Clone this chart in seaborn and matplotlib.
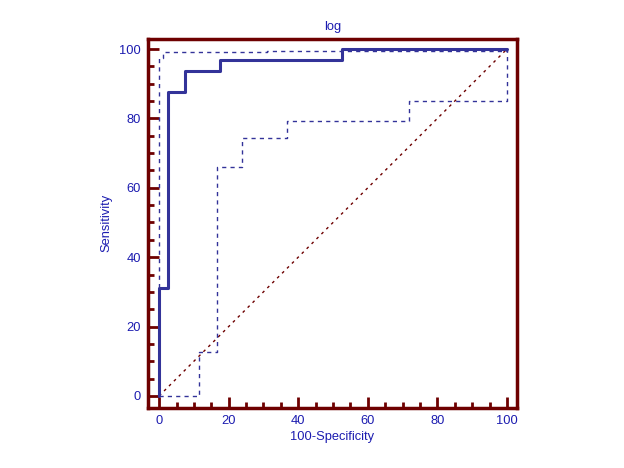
import numpy as np
import pandas as pd
import matplotlib
matplotlib.use("Agg")
import matplotlib.pyplot as plt
import seaborn as sns
from matplotlib.ticker import MultipleLocator

# ROC curve vertices (100-Specificity, Sensitivity)
roc_x = [0, 0, 2.5, 2.5, 7.5, 7.5, 17.5, 17.5, 52.5, 52.5, 100]
roc_y = [0, 31.25, 31.25, 87.5, 87.5, 93.75, 93.75, 96.875, 96.875, 100, 100]

# confidence bounds
upper_x = [0, 0, 1, 1, 31, 31, 100, 100]
upper_y = [0, 97.3, 97.3, 99.2, 99.2, 99.5, 99.5, 100]
lower_x = [0, 11.6, 11.6, 16.6, 16.6, 23.9, 23.9, 36.9, 36.9, 71.9, 71.9, 100, 100]
lower_y = [0, 0, 12.6, 12.6, 65.9, 65.9, 74.3, 74.3, 79.3, 79.3, 85, 85, 100]

diag = [0, 100]

maroon = "#6e0000"
blue = "#333399"
navy = "#1c1cb0"

sns.set_style("white")
plt.rcParams['font.family'] = ['Liberation Sans', 'DejaVu Sans']

fig = plt.figure(figsize=(6.24, 4.68), dpi=100)
ax = fig.add_axes([0.2372, 0.1289, 0.5913, 0.7884])

sns.lineplot(x=diag, y=diag, ax=ax, color=maroon, lw=1, sort=False,
             estimator=None, linestyle=(0, (2, 3)))
sns.lineplot(x=upper_x, y=upper_y, ax=ax, color=blue, lw=1, sort=False,
             estimator=None, linestyle=(0, (3, 3)))
sns.lineplot(x=lower_x, y=lower_y, ax=ax, color=blue, lw=1, sort=False,
             estimator=None, linestyle=(0, (3, 3)))
sns.lineplot(x=roc_x, y=roc_y, ax=ax, color=blue, lw=2.2, sort=False,
             estimator=None)

ax.set_xlim(-3.2, 102.9)
ax.set_ylim(-3.4, 103)
ax.set_xticks(np.arange(0, 101, 20))
ax.set_yticks(np.arange(0, 101, 20))
ax.xaxis.set_minor_locator(MultipleLocator(5))
ax.yaxis.set_minor_locator(MultipleLocator(5))

for s in ax.spines.values():
    s.set_color(maroon)
    s.set_linewidth(2.5)

ax.tick_params(which='both', direction='in', color=maroon, width=2,
               labelcolor=navy, labelsize=9.3, bottom=True, left=True,
               top=False, right=False)
ax.tick_params(which='major', length=8, pad=5)
ax.tick_params(which='minor', length=4.5)

ax.set_xlabel("100-Specificity", color=navy, fontsize=9.3, labelpad=3)
ax.set_ylabel("Sensitivity", color=navy, fontsize=9.3, labelpad=5)
ax.set_title("log", color=navy, fontsize=9.3, pad=6)
ax.grid(False)

fig.savefig("out.png", dpi=100)
